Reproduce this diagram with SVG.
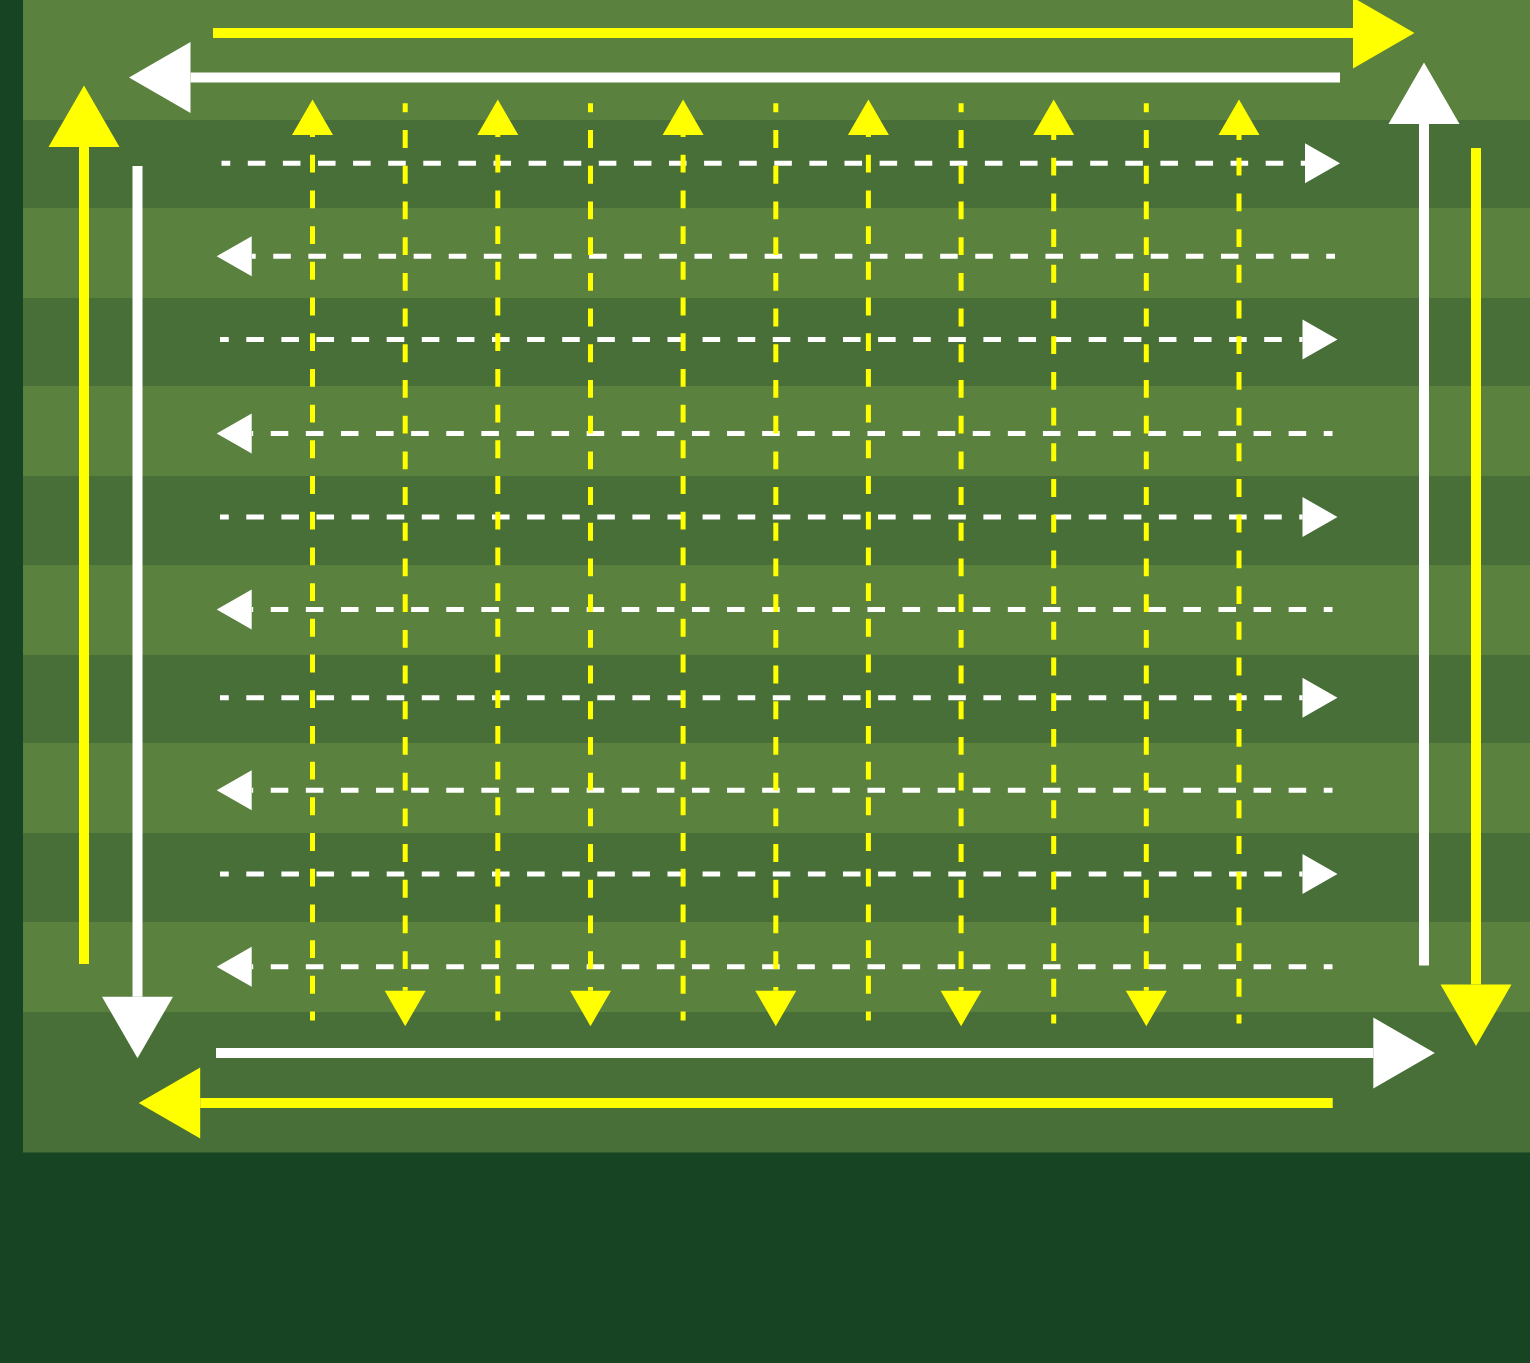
<svg xmlns="http://www.w3.org/2000/svg" width="1530" height="1363" viewBox="0 0 1530 1363">
  <style>
    .light { fill: #5A813D; }
    .dark { fill: #486F38; }
    .bigY { stroke: #FFFF00; stroke-width: 10; fill: none; marker-end: url(#headBigY); }
    .bigW { stroke: #FFFFFF; stroke-width: 10; fill: none; marker-end: url(#headBigW); }
    .dashW { stroke: #FFFFFF; stroke-width: 5; fill: none; stroke-dasharray: 17.55 17.55; stroke-dashoffset: 8.8; marker-end: url(#headSmallW); }
    .dashY { stroke: #FFFF00; stroke-width: 5; fill: none; stroke-dasharray: 17.85 17.85; stroke-dashoffset: 8.9; marker-end: url(#headSmallY); }
  </style>
  <defs>
    <marker id="headBigY" markerUnits="userSpaceOnUse" viewBox="0 0 61.5 71" refX="0" refY="35.5" markerWidth="61.5" markerHeight="71" orient="auto" overflow="visible">
      <path d="M0,0 L61.5,35.5 L0,71 Z" fill="#FFFF00"/>
    </marker>
    <marker id="headBigW" markerUnits="userSpaceOnUse" viewBox="0 0 61.5 71" refX="0" refY="35.5" markerWidth="61.5" markerHeight="71" orient="auto" overflow="visible">
      <path d="M0,0 L61.5,35.5 L0,71 Z" fill="#FFFFFF"/>
    </marker>
    <marker id="headSmallW" markerUnits="userSpaceOnUse" viewBox="0 0 35 40" refX="0" refY="20" markerWidth="35" markerHeight="40" orient="auto" overflow="visible">
      <path d="M0,0 L35,20 L0,40 Z" fill="#FFFFFF"/>
    </marker>
    <marker id="headSmallY" markerUnits="userSpaceOnUse" viewBox="0 0 35.5 41" refX="0" refY="20.5" markerWidth="35.5" markerHeight="41" orient="auto" overflow="visible">
      <path d="M0,0 L35.5,20.5 L0,41 Z" fill="#FFFF00"/>
    </marker>
  </defs>

  <rect id="background" x="0" y="0" width="1530" height="1363" fill="#174523"/>

  <g id="field">
    <rect class="light" x="23" y="0" width="1507" height="120"/>
    <rect class="dark" x="23" y="120" width="1507" height="88"/>
    <rect class="light" x="23" y="208" width="1507" height="90"/>
    <rect class="dark" x="23" y="298" width="1507" height="88"/>
    <rect class="light" x="23" y="386" width="1507" height="90"/>
    <rect class="dark" x="23" y="476" width="1507" height="89"/>
    <rect class="light" x="23" y="565" width="1507" height="90"/>
    <rect class="dark" x="23" y="655" width="1507" height="88"/>
    <rect class="light" x="23" y="743" width="1507" height="90"/>
    <rect class="dark" x="23" y="833" width="1507" height="89"/>
    <rect class="light" x="23" y="922" width="1507" height="90"/>
    <rect class="dark" x="23" y="1012" width="1507" height="140.5"/>
  </g>

  <g id="connectors">
    <g id="perimeter">
      <path id="top-yellow" class="bigY" d="M213,33 L1353,33"/>
      <path id="top-white" class="bigW" d="M1340,77.5 L190.5,77.5"/>
      <path id="left-yellow" class="bigY" d="M84,964 L84,147"/>
      <path id="left-white" class="bigW" d="M137.5,166 L137.5,996.7"/>
      <path id="right-white" class="bigW" d="M1424,965.5 L1424,124"/>
      <path id="right-yellow" class="bigY" d="M1476,148 L1476,984.5"/>
      <path id="bottom-white" class="bigW" d="M216,1053 L1373.3,1053"/>
      <path id="bottom-yellow" class="bigY" d="M1332.7,1103 L200.2,1103"/>
    </g>
    <g id="rows">
      <path id="row1" class="dashW" d="M221.5,163.3 L1305,163.3"/>
      <path id="row2" class="dashW" d="M1335,256.2 L251.7,256.2"/>
      <path id="row3" class="dashW" d="M220,339.5 L1302.5,339.5"/>
      <path id="row4" class="dashW" d="M1332.5,433.5 L251.7,433.5"/>
      <path id="row5" class="dashW" d="M220,517 L1302.5,517"/>
      <path id="row6" class="dashW" d="M1332.5,609.5 L251.7,609.5"/>
      <path id="row7" class="dashW" d="M220,697.8 L1302.5,697.8"/>
      <path id="row8" class="dashW" d="M1332.5,790.3 L251.7,790.3"/>
      <path id="row9" class="dashW" d="M220,874 L1302.5,874"/>
      <path id="row10" class="dashW" d="M1332.5,966.7 L251.7,966.7"/>
    </g>
    <g id="columns">
      <path id="col1" class="dashY" d="M312.5,1020.5 L312.5,135"/>
      <path id="col2" class="dashY" d="M405.2,103.3 L405.2,990.7"/>
      <path id="col3" class="dashY" d="M497.8,1020.5 L497.8,135"/>
      <path id="col4" class="dashY" d="M590.5,103.3 L590.5,990.7"/>
      <path id="col5" class="dashY" d="M683.1,1020.5 L683.1,135"/>
      <path id="col6" class="dashY" d="M775.8,103.3 L775.8,990.7"/>
      <path id="col7" class="dashY" d="M868.4,1020.5 L868.4,135"/>
      <path id="col8" class="dashY" d="M961.1,103.3 L961.1,990.7"/>
      <path id="col9" class="dashY" d="M1053.7,1023.5 L1053.7,135"/>
      <path id="col10" class="dashY" d="M1146.3,103.3 L1146.3,990.7"/>
      <path id="col11" class="dashY" d="M1239,1023.5 L1239,135"/>
    </g>
  </g>
</svg>
